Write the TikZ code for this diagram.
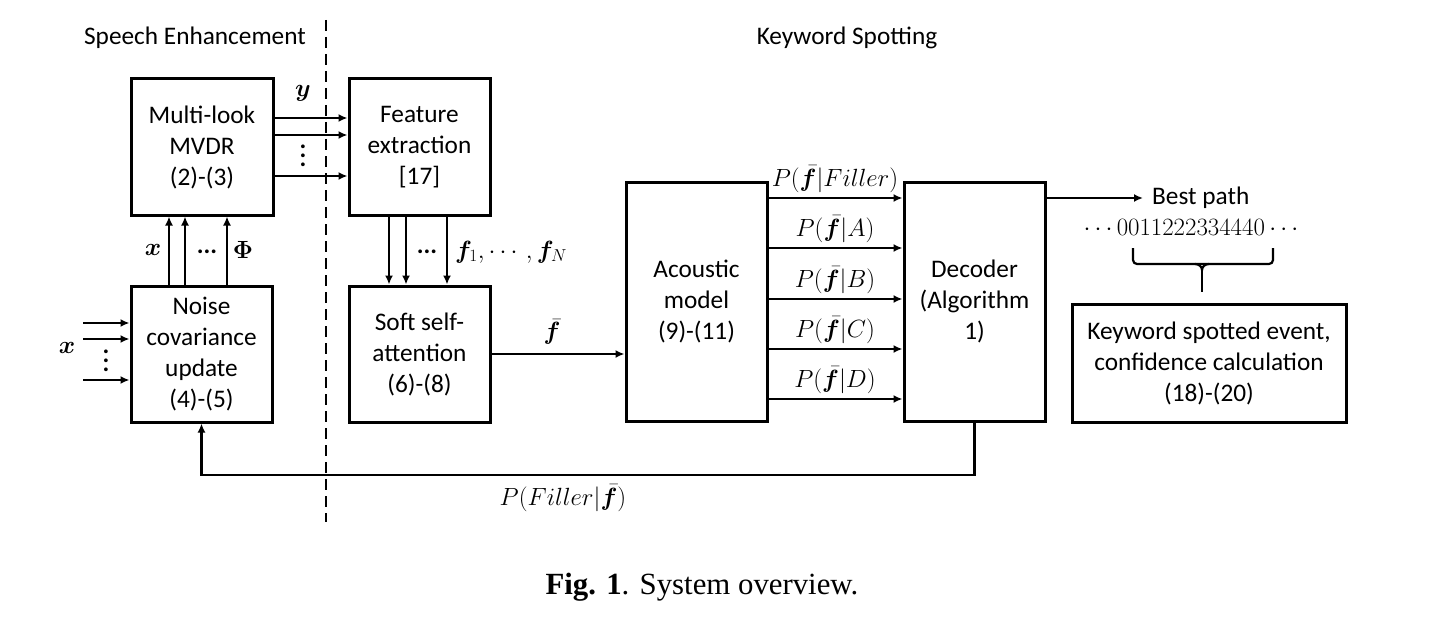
\documentclass[tikz,border=0pt]{standalone}
\usepackage{amsmath,amssymb,bm}
\usepackage[no-math]{fontspec}
\setmainfont{Carlito}
\newfontfamily\capfont{Liberation Serif}
\usetikzlibrary{arrows.meta}
\newcommand\bdfont{\fontsize{25.3}{31}\selectfont}
\newcommand\mthfont{\fontsize{25}{30}\selectfont}
\newcommand\myvdts{\vbox{\baselineskip=9pt\lineskiplimit=-10pt\hbox{.}\hbox{.}\hbox{.}}}
\begin{document}
\begin{tikzpicture}[x=1pt,y=-1pt,
  box/.style={draw, line width=3pt, align=center, inner sep=0pt, font=\bdfont},
  ttl/.style={inner sep=0pt, font=\bdfont},
  arr/.style={line width=2.4pt, -{Latex[length=9pt,width=8pt]}},
  plain/.style={line width=2.4pt},
  lab/.style={inner sep=0pt, font=\mthfont},
  dts/.style={inner sep=0pt, font=\bdfont\bfseries},
  divider/.style={line width=2.2pt, dash pattern=on 11pt off 6pt}]
\useasboundingbox (0,0) rectangle (1429,623);

% titles and divider
\node[ttl] (se) at (195,38) {Speech Enhancement};
\node[ttl] (ks) at (847,38) {Keyword Spotting};
\coordinate (dtop) at (326,20);
\coordinate (dbot) at (326,522);
\draw[divider] (dtop) -- (dbot);

% boxes
\node[box, minimum width=142pt, minimum height=136pt] (mvdr) at (202,147) {Multi-look\\MVDR\\(2)-(3)};
\node[box, minimum width=141pt, minimum height=136pt] (feat) at (419.5,147) {Feature\\extraction\\{[17]}};
\node[box, minimum width=141pt, minimum height=136pt] (noise) at (201.5,354) {Noise\\covariance\\update\\(4)-(5)};
\node[box, minimum width=141pt, minimum height=136pt] (soft) at (419.5,354) {Soft self-\\attention\\(6)-(8)};
\node[box, minimum width=141pt, minimum height=239pt] (ac) at (696.5,301.5) {Acoustic\\model\\(9)-(11)};
\node[box, minimum width=141pt, minimum height=239pt] (dec) at (974.5,301.5) {Decoder\\(Algorithm\\1)};
\node[box, minimum width=274pt, minimum height=118pt] (kw) at (1209,363) {Keyword spotted event,\\confidence calculation\\(18)-(20)};

% MVDR -> feature extraction
\foreach \yy in {118,135,176} \draw[arr] (mvdr.east |- 0,\yy) -- (feat.west |- 0,\yy);
\node[lab] (ylab) at (303,93) {$\boldsymbol{y}$};
\node[dts] (vd1) at (303,156) {\myvdts};

% noise -> MVDR
\foreach \xx in {169,185,227} \draw[arr] (noise.north -| \xx,0) -- (mvdr.south -| \xx,0);
\node[lab] (xlab1) at (153,250) {$\boldsymbol{x}$};
\node[dts] (dots1) at (207,252) {...};
\node[lab] (philab) at (243,250) {$\boldsymbol{\Phi}$};

% feature -> soft attention
\foreach \xx in {389,406,447} \draw[arr] (feat.south -| \xx,0) -- (soft.north -| \xx,0);
\node[dts] (dots2) at (427,252) {...};
\node[lab, anchor=west, font=\fontsize{24}{28}\selectfont] (flab) at (455,252) {$\boldsymbol{f}_1,\cdots,\boldsymbol{f}_N$};

% inputs to noise covariance update
\coordinate (in1) at (83,323);
\coordinate (in2) at (83,339);
\coordinate (in3) at (83,380);
\foreach \c in {in1,in2,in3} \draw[arr] (\c) -- (noise.west |- \c);
\node[lab] (xlab2) at (67,348) {$\boldsymbol{x}$};
\node[dts] (vd2) at (106,361) {\myvdts};

% soft attention -> acoustic model
\draw[arr] (soft.east) -- (ac.west |- soft.east);
\node[lab] (fbar) at (552,332) {$\bar{\boldsymbol{f}}$};

% acoustic model -> decoder
\foreach \yy/\t in {198/Filler,248/A,299/B,349/C,399/D}{
  \draw[arr] (ac.east |- 0,\yy) -- (dec.west |- 0,\yy);
  \node[lab] (p\t) at (835,\yy-19) {$P(\bar{\boldsymbol{f}}|\t)$};
}

% best path
\coordinate (bpa) at (1143,198);
\draw[arr] (dec.east |- bpa) -- (bpa);
\node[ttl, anchor=west] (bp) at (1152,198) {Best path};
\node[lab, font=\fontsize{26.5}{30}\selectfont] (seq) at (1193,227) {$\cdots 0011222334440\cdots$};
\coordinate (stem) at (1202,292);
\draw[line width=2.2pt, rounded corners=4pt] (1133,248) -- (1133,264) -- (1273,264) -- (1273,248);
\draw[line width=2.2pt] (1195,264) to[out=0,in=90] (1202,270) to[out=90,in=180] (1209,264);
\draw[line width=2.2pt] (1202,269) -- (stem);

% feedback
\coordinate (fb) at (0,475);
\draw[arr] (dec.south) -- (dec.south |- fb) -| (noise.south);
\node[lab] (pfill) at (563,498) {$P(Filler|\bar{\boldsymbol{f}})$};

% caption
\node[inner sep=0pt, anchor=base, font=\capfont\fontsize{30.8}{36}\selectfont] (cap) at (702,594) {\textbf{Fig. 1}. System overview.};
\end{tikzpicture}
\end{document}
